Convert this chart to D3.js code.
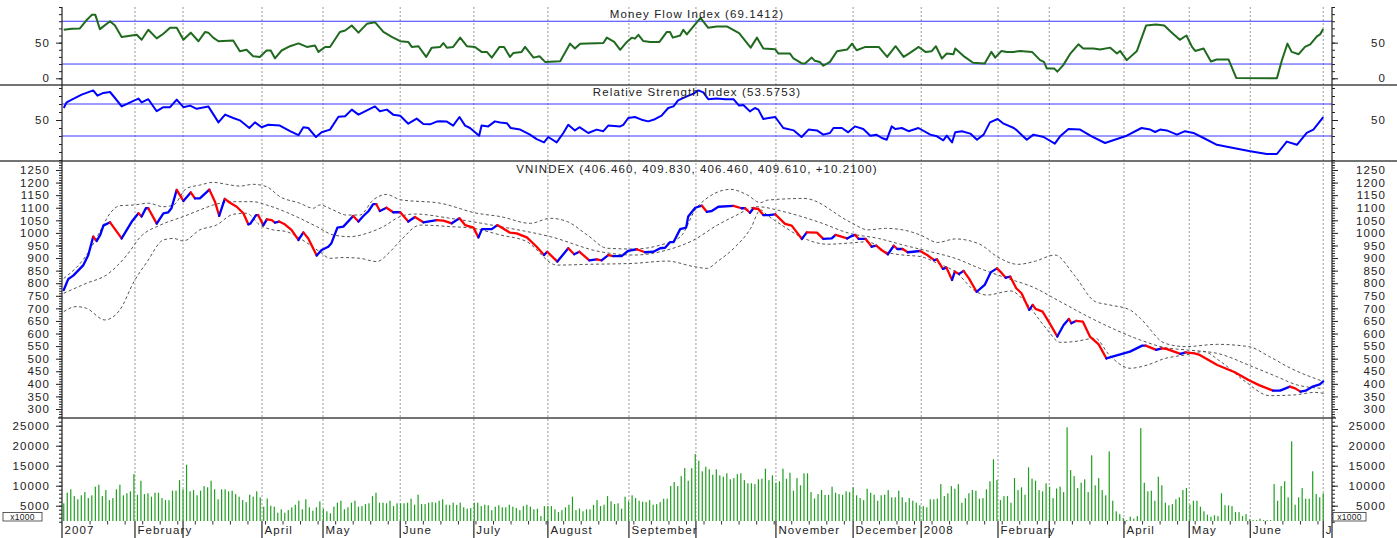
<!DOCTYPE html>
<html><head><meta charset="utf-8">
<script src="https://cdn.jsdelivr.net/npm/d3@7"></script>
<style>
body{margin:0;background:#fff}
svg{display:block}
text{font-family:"Liberation Sans",Arial,sans-serif;font-size:11.5px;letter-spacing:1.1px;fill:#222}
</style></head><body>
<svg id="c" width="1397" height="538"></svg>
<script>
// ---- x axis: month boundaries (trading-day index) and labels ----
const monthTicks  = [-0.5,20.3,34.0,56.5,73.9,95.9,116.9,138.0,161.1,180.2,203.0,225.0,244.4,266.3,280.9,302.2,320.8,338.2,359.0];
const monthLabels = ["2007","February","","April","May","June","July","August","September","","November","December","2008","February","","April","May","June","J"];

// ---- VNINDEX close, read at turning points [dayIndex, value] ----
const closePts = [[0,773],[1.3,817],[2.7,830],[5.6,872],[7,912],[8.4,985],[9.4,968],[10.4,992],[11.3,1029],[13.2,1042],[16.5,978],[19.4,1045],[21.3,1078],[22.2,1065],[23.4,1098],[24.1,1098],[26.5,1037],[28.4,1078],[29.8,1082],[30.7,1098],[32.2,1171],[34.1,1127],[36.2,1161],[37.4,1137],[38.8,1137],[41.5,1172],[43.1,1124],[44.3,1068],[45.9,1135],[47.4,1120],[49.3,1104],[51.2,1078],[52.6,1034],[53.2,1037],[54.8,1071],[55.4,1071],[56.9,1031],[57.9,1054],[59.3,1051],[60.2,1041],[61.4,1045],[63,1034],[64.9,1012],[66.9,972],[68.3,1002],[69.7,978],[72.1,910],[73.5,932],[75.4,945],[76.3,959],[78,1021],[79.7,1025],[82.5,1067],[84,1045],[85.4,1067],[86.9,1087],[88.2,1114],[89.1,1114],[90.1,1087],[92,1100],[93.9,1082],[95.9,1082],
[98.2,1045],[100.1,1063],[102.5,1042],[106.3,1051],[108.2,1049],[110.6,1038],[112.8,1058],[114.4,1031],[116.8,1021],[118.2,982],[119.2,1015],[122,1015],[123.6,1031],[127.2,1001],[129.1,998],[132,982],[134.8,945],[136.9,912],[137.8,925],[140.7,886],[143.8,939],[145.5,915],[147,925],[149.8,891],[151.9,895],[153.3,891],[155.2,912],[156.6,908],[159,908],[160.9,929],[163.3,935],[165.7,923],[168.1,925],[170,939],[171.4,941],[172.8,963],[173.8,963],[175.7,1015],[177.4,1021],[178,1065],[180,1100],[181.9,1108],[183.3,1084],[184.7,1087],[186.6,1104],[190.9,1107],[193.2,1098],[194.2,1098],[195.6,1080],[196.6,1098],[198,1095],[199.4,1071],[200.9,1071],[202.8,1074],[205.6,1036],[207.5,1029],[210.4,976],[211.8,1002],[214.7,1001],[216.5,976],[218.9,978],[220,992],[223.3,978],[224.2,985],
[225.6,992],[226.6,976],[228.6,976],[230.3,945],[231.6,949],[233.1,932],[234.9,915],[236.6,949],[237.6,936],[239.1,936],[240.6,923],[242.1,925],[244.1,928],[246.1,912],[248.1,892],[248.9,895],[250.6,857],[251.6,862],[253.2,813],[254,846],[255.2,837],[256.5,849],[258,819],[260.2,766],[262.5,793],[264.2,843],[266,859],[267.2,843],[268.5,822],[269.8,826],[271.5,780],[273,760],[275.2,694],[276.2,714],[277,698],[279,687],[281,641],[283.2,588],[285,634],[286.5,658],[287.2,641],[288.5,650],[290.5,647],[292.5,588],[295,557],[297.2,501],[299.9,512],[303.9,528],[307.4,552],[308.4,552],[311.4,535],[312.9,541],[314.3,539],[318.3,519],[319.8,525],[322.3,521],[323.8,515],[328.8,475],[333.8,446],[337.7,415],[340.7,395],[344.7,373],[346.7,373],[349.5,389],[351,382],[352.5,369],[354,373],[356,389],[358,398],[359,409.61]];

// ---- Bollinger bands [dayIndex, value] ----
const bbUpper = [[0,819],[6.5,912],[10.3,1005],[13.2,1078],[16,1108],[20,1111],[24.1,1118],[28.4,1104],[31.3,1111],[35,1177],[38.8,1190],[42.6,1201],[46.4,1193],[50.2,1186],[54,1193],[57.8,1184],[61.6,1144],[67.3,1118],[71.1,1098],[73,1111],[76.8,1091],[80.6,1071],[84.4,1071],[88.2,1131],[92,1153],[95.9,1132],[107.3,1118],[117.8,1078],[124.4,1065],[133,1038],[138.7,1058],[143.5,1045],[149.2,992],[154.9,939],[162.5,936],[170.1,952],[175.8,985],[180.6,1104],[190.1,1173],[194.8,1151],[198.6,1120],[200.5,1130],[211,1137],[224.3,1042],[229.2,1012],[234.2,1018],[239.2,1012],[244.1,992],[249.1,962],[254.1,976],[261.1,955],[266,906],[272,875],[277,888],[282.5,912],[288,833],[294,727],[298,714],[303.9,694],[306.9,660],[313.9,561],[319.8,548],[328.8,557],[337.7,548],[343.7,508],[349.7,462],[358.7,411]];
const bbMiddle = [[0,760],[6.5,800],[12.2,833],[18,912],[21.9,985],[27.5,1031],[34.1,1065],[38.8,1091],[42.6,1111],[48.3,1124],[54,1124],[57.8,1111],[62.6,1087],[67.3,1058],[72.1,1025],[76.8,992],[81.6,985],[86.3,998],[91.1,1025],[95.9,1065],[100,1075],[110.2,1058],[124.4,1025],[138.7,985],[153,925],[162.5,912],[172,932],[179.6,972],[186.3,1031],[191,1065],[197.7,1104],[205.3,1084],[214.8,1045],[224.3,997],[232.2,978],[239.2,952],[247.1,925],[254.1,899],[261.1,859],[269,819],[276,786],[284,727],[292,667],[299.9,614],[306.9,574],[313.9,544],[319.8,535],[328.8,521],[338.7,469],[345.7,429],[351.7,395],[358.7,382]];
const bbLower = [[0,687],[3.5,707],[6.5,700],[11.7,654],[16,694],[20,806],[23.8,886],[28.4,972],[31.3,978],[34.1,968],[38.8,1012],[43.5,1031],[48.3,1074],[52.1,1078],[55.9,1031],[59.7,1012],[63.5,1005],[67.3,978],[73,925],[75.9,899],[79.7,902],[84.4,899],[89.2,886],[93,925],[95.9,968],[101.6,1031],[110.2,1025],[116.8,1018],[124.4,992],[132,965],[140.6,872],[149.2,875],[162.5,879],[172,888],[179.6,866],[183.4,859],[186.3,886],[191,939],[195.8,1018],[198.6,1091],[200.5,1071],[205.3,1025],[210,985],[217.7,955],[224.3,960],[229.2,965],[234.2,925],[239.2,912],[244.1,906],[249.1,879],[254.1,846],[260.1,766],[263.1,753],[270,769],[274,727],[280,621],[284,565],[288,568],[294,581],[298,515],[303.9,462],[308.9,475],[313.9,501],[319.8,515],[324.8,528],[329.8,488],[336.8,409],[343.7,353],[350.7,356],[356.7,366],[359.2,362]];

// ---- Money Flow Index [dayIndex, value] ----
const mfiPts = [[0,68],[2.3,69.4],[4.6,70],[6.4,81],[8,89],[9,89],[10.3,69],[13.2,80],[14.6,74],[16.5,58],[20.8,61],[22.2,54],[24.1,68],[26.5,56],[28.4,62.5],[30.3,71],[32.2,71],[34.1,54],[36.2,64],[38.4,52],[40.3,65],[41.2,64],[42.6,57],[44.1,52],[48.3,53],[50.2,38],[52.1,40],[54,31],[55.9,30],[57.8,39],[59,39],[60.2,28],[62.1,39],[64.5,45],[66.9,49],[69.3,44],[71.6,46],[72.6,37],[74.5,44],[75.9,44],[78.7,65],[80.2,67],[82.1,74],[84,64],[86.4,76.4],[88.7,78.7],[91.1,65],[93.5,58],[95.9,52],[98.2,51],[99.2,44],[101.1,45],[103.3,30],[104.9,43],[107.3,44],[108.2,49.5],[109.2,43],[111,44],[113,57],[114.9,45],[117.2,44],[119.1,37],[120.6,37],[122,29],[124.2,44],[125.5,44],[127.2,30],[128.2,35.6],[130.5,37],[131.5,44],[133.9,29],[135.6,31],[137.2,23],[141.5,24],[144.3,48.6],[145.7,41.7],[147.2,48.6],[153.8,49.5],[154.8,57],[156.9,51],[158.6,40],[160.5,51],[161.9,57],[162.8,55.6],[163.8,61],[165.2,52.3],[167.1,51],[169.8,51],[171.9,65],[172.8,65],[173.6,57],[175.7,60],[176.6,68],[177.6,61.6],[181.5,84.7],[183.7,70.8],[186.1,72.7],[189,72.7],[192.5,63.4],[195.8,43],[197.6,57],[199.4,41.7],[202.8,40.7],[203.7,34.7],[207,34.7],[208,27.8],[210.4,20.8],[211.3,20.8],[213.2,29],[214.1,24.5],[215.5,23],[216.5,17.6],[218.4,23],[220.4,38],[223.3,40.3],[224.7,48.6],[226,39.4],[228.5,44],[232.3,44],[234.7,30],[237.1,45],[239.4,30],[241.2,35.6],[243.7,44],[245.6,37],[247.4,38],[248.6,45],[250.3,27.8],[251.7,34.7],[253.6,33.8],[254.1,41.7],[256.8,30],[259.2,21.8],[262.5,20.8],[264.4,37],[265.5,29],[267.3,38.4],[268.8,37],[270.7,37],[272.6,38.4],[276,37],[278.3,25.5],[279.4,23],[280.2,13.9],[282.3,13.9],[283.2,9.3],[284.9,18.5],[286.8,33.8],[289.2,47.7],[290.6,41.7],[293.5,41.7],[295.4,40.3],[298.3,43],[300.2,34.7],[301.1,38.4],[303,25.5],[305.9,38.4],[308.5,74],[311.3,75.5],[313.7,74],[315.4,66],[318.1,54],[320,60],[321.6,44],[322.5,38.4],[324.9,41.7],[327,23.6],[328.6,26.4],[332,26.4],[334.2,0.5],[345.8,0],[347.2,25],[348.8,48.6],[350,37],[352,33.8],[353.8,44],[355.3,47.7],[357.2,58.8],[358.1,61.6],[359,69.14]];

// ---- Relative Strength Index [dayIndex, value] ----
const rsiPts = [[0,65],[0.8,72],[2.3,75.4],[5.1,81.7],[8.4,87],[9.6,80.4],[11.3,83.8],[13.2,85],[14.6,77.5],[16.5,67],[19.4,73],[21.3,76.7],[22.2,72],[24.1,76],[26.5,61],[28.4,66],[30.3,66],[32.2,75.4],[34.1,66],[36,68],[37.9,64],[41.2,67],[44.1,47],[46,56.7],[48.3,52.5],[50.2,49.6],[52.9,40],[54.5,47],[56.4,41],[58.3,44],[61.6,43],[64.5,36],[66.9,31],[68.3,41],[69.7,40],[71.9,28.7],[73.5,34.6],[75.9,38],[78.3,54],[80.2,54.6],[82.1,63],[84,56.7],[88.7,67],[90.1,61],[92.1,63],[93.9,56.7],[95.9,55.4],[98.2,45.4],[100.6,51.7],[102.5,45],[104.4,44.6],[106.3,48],[107.3,48.3],[109.2,48],[111,43],[112.8,53.75],[114.4,43],[115.8,40],[118.4,30.4],[119.1,43],[121,42],[122.9,48.3],[124.4,47],[126.3,46],[127.4,40],[130.1,38],[132.9,31.7],[134.8,26],[136.9,22],[138.1,28.75],[140.5,22],[142.4,33.75],[143.8,44],[145.7,37],[147,41],[149.5,33.75],[151.9,38],[153.8,36],[155.2,43],[158.6,42],[159.5,44],[160.9,52.5],[162.8,53.75],[164.7,50.4],[166.6,48.3],[168.5,51],[170.4,55.4],[172.3,65],[173.8,67],[175.1,74.6],[177.6,79.6],[179.5,83],[180.9,87],[182.3,84.6],[183.7,76],[186.1,77],[188.5,76],[190.9,76],[192.5,68],[193.7,68.75],[195.6,60.8],[197,65],[198,63],[199.4,51.25],[200.9,52.5],[202.8,53.75],[205.1,40],[208.1,37],[210.3,28.75],[212.3,38],[214.7,37],[216.5,31.7],[218.4,33.75],[219.4,40],[221.8,40],[223.6,34.6],[225.5,42],[227.9,38.75],[229.9,30.4],[231.6,31.7],[233.2,27.5],[234.6,25.4],[236,42],[237,38.75],[238.9,40],[240.8,36],[243.6,40],[247,31.7],[248.9,29.6],[250.7,24.6],[251.7,30.4],[253.2,22],[254.1,34.6],[256,36],[258.4,33],[260.3,25.4],[262.2,31.7],[264,47],[266.2,51.25],[267.9,45.4],[270.8,40],[271.7,37],[274.5,25.4],[276.4,31.7],[279.3,28.75],[282.5,20.4],[284,29.6],[286.4,38.75],[289.7,38],[293,29.6],[296.8,21.25],[300.2,26.25],[303,30.4],[307.2,40],[309.7,38],[311.1,35],[312.5,38],[314.4,37],[317.3,31.7],[319.6,36],[322,33.8],[324.9,27.5],[328.7,19],[333.4,15],[338.2,11],[342.9,7.5],[345.8,7.5],[348.6,23],[351.5,19],[354.3,34],[356.2,38],[359,53.58]];

// ---- Volume, one bar per trading day, in thousands of axis units (axis unit = x1000) ----
const volumeK = [5.6,8.25,9.1,7.4,6.6,7.6,8.4,6.9,7.6,9.75,10.25,7.4,8.9,6.4,6.9,9.1,10.25,7.6,8.1,8.6,12.9,7.7,11.25,7.9,8.1,7.25,8.25,8.25,6.9,6.4,6.4,8.75,8.75,11.4,9.1,15.25,8.6,8.9,7.6,8.75,9.9,9.6,11.25,9.1,6.6,9.1,9.1,8.6,8.75,7.9,7.25,6.4,5.9,7.75,7.25,8.6,7.1,4.75,6.8,5.0,4.75,3.25,4.1,3.25,3.9,4.6,5.25,6.25,4.1,6.6,4.6,3.75,4.6,6.1,4.25,3.6,3.1,4.75,5.75,6.25,4.1,4.6,5.75,6.25,4.75,4.9,5.4,5.6,7.4,8.25,5.75,5.75,5.6,6.25,4.9,5.6,5.6,5.6,5.75,6.75,5.25,7.75,5.4,5.4,5.75,5.9,5.75,6.25,6.6,5.25,
5.2,5.75,5.2,5.75,4.6,4.25,4.4,5.75,5.75,4.9,5.25,5.1,3.9,4.75,5.1,4.6,4.6,5.25,4.75,4.4,3.9,4.9,5.25,4.75,4.1,4.25,2.4,4.9,4.9,4.9,4.1,3.4,3.9,4.6,5.25,7.25,3.9,4.3,3.6,4.1,4.1,5.2,6.4,4.9,5.25,7.4,6.1,5.4,5.6,4.25,7.25,6.1,7.6,6.9,6.25,6.0,5.9,6.4,5.25,5.4,5.9,6.75,6.75,9.9,10.9,9.9,12.4,14.4,11.25,14.4,17.9,16.25,13.6,14.75,14.1,12.75,14.1,12.6,12.25,13.1,11.6,11.9,12.9,13.1,11.4,10.6,10.6,10.4,11.6,11.75,14.25,11.4,12.6,10.75,11.1,14.25,11.75,13.25,8.75,11.9,10.1,13.1,13.1,8.4,6.8,7.9,8.9,7.7,7.7,9.75,8.25,7.9,7.7,8.6,8.4,9.6,7.6,6.9,6.4,9.25,8.25,7.75,6.25,7.6,7.75,8.9,7.1,7.1,8.75,7.1,5.9,6.9,6.25,5.75,5.1,4.9,4.6,
6.6,6.6,6.75,10.4,7.4,8.1,9.9,9.25,10.4,5.75,6.9,8.1,8.9,8.75,6.75,6.9,9.1,11.1,16.6,11.4,6.4,7.4,7.4,5.75,11.9,8.9,9.6,7.75,14.6,11.75,11.25,8.9,8.6,10.6,9.75,6.9,9.3,9.75,8.4,24.6,13.9,12.4,9.4,10.75,11.6,8.4,17.6,10.1,11.9,8.9,7.6,18.6,6.25,3.6,2.9,1.9,1.4,2.25,1.75,2.4,24.4,10.75,8.6,8.75,6.25,12.25,10.1,5.75,5.1,5.4,6.6,7.1,8.9,9.4,5.25,6.25,6.25,4.75,3.6,2.75,2.25,2.6,2.4,8.1,5.1,5.1,4.9,3.4,3.4,2.4,2.9,1.6,1.4,1.4,1.75,1.4,1.4,1.4,10.4,6.25,9.9,11.1,7.1,21.1,5.25,7.1,9.4,6.75,6.75,13.6,7.9,7.1,8.1];

const mfiRefs = [20, 80];
const rsiRefs = [30, 70];
const titles = ["Money Flow Index (69.1412)", "Relative Strength Index (53.5753)", "VNINDEX (406.460, 409.830, 406.460, 409.610, +10.2100)"];

// ---------------- drawing ----------------
const svg = d3.select("#c");
const L = 62, R = 1332;
const X = d3.scaleLinear().domain([-0.5, 361.5]).range([L, R]);
const yMfi = d3.scaleLinear().domain([0, 100]).range([78.3, 7]);
const yRsi = d3.scaleLinear().domain([0, 100]).range([160, 80]);
const yPx  = d3.scaleLinear().domain([300, 1250]).range([409, 170]);
const yVol = d3.scaleLinear().domain([0, 25]).range([525.7, 425.7]);
const VOL_BASE = 521;

// vertical dotted month gridlines
svg.append("g").selectAll("line").data(monthTicks.filter(t => t > 0)).join("line")
  .attr("x1", d => X(d)).attr("x2", d => X(d)).attr("y1", 7).attr("y2", VOL_BASE)
  .attr("stroke", "#9a9a9a").attr("stroke-width", 1).attr("stroke-dasharray", "2,2");

// reference lines
svg.append("g").selectAll("line").data(mfiRefs).join("line")
  .attr("x1", L).attr("x2", R).attr("y1", d => yMfi(d)).attr("y2", d => yMfi(d))
  .attr("stroke", "#3a3aff").attr("stroke-width", 1);
svg.append("g").selectAll("line").data(rsiRefs).join("line")
  .attr("x1", L).attr("x2", R).attr("y1", d => yRsi(d)).attr("y2", d => yRsi(d))
  .attr("stroke", "#3a3aff").attr("stroke-width", 1);

// panel separators
[[85, 0, 1397], [161, 0, 1397], [418, 58, 1336]].forEach(([y, a, b]) => {
  svg.append("line").attr("x1", a).attr("x2", b).attr("y1", y).attr("y2", y)
    .attr("stroke", "#444").attr("stroke-width", 1.3);
});

// volume bars
svg.append("g").selectAll("rect").data(volumeK).join("rect")
  .attr("x", (d, i) => X(i) - 0.6).attr("width", 1.2)
  .attr("y", d => Math.min(yVol(d), VOL_BASE)).attr("height", d => Math.max(0, VOL_BASE - yVol(d)))
  .attr("fill", "#1f9f1f");

// Bollinger bands
const bandLine = d3.line().x(d => X(d[0])).y(d => yPx(d[1])).curve(d3.curveMonotoneX);
[bbUpper, bbMiddle, bbLower].forEach(b => {
  svg.append("path").attr("d", bandLine(b)).attr("fill", "none")
    .attr("stroke", "#555").attr("stroke-width", 1).attr("stroke-dasharray", "3,2.5");
});

// price line, blue when rising, red when falling
const pxLine = d3.line().x(d => X(d[0])).y(d => yPx(d[1]));
let runs = [], cur = null;
for (let k = 1; k < closePts.length; k++) {
  const col = closePts[k][1] >= closePts[k - 1][1] ? "#0000ff" : "#ff0000";
  if (!cur || cur.col !== col) { cur = { col, pts: [closePts[k - 1]] }; runs.push(cur); }
  cur.pts.push(closePts[k]);
}
svg.append("g").selectAll("path").data(runs).join("path")
  .attr("d", d => pxLine(d.pts)).attr("fill", "none").attr("stroke", d => d.col)
  .attr("stroke-width", 2.3).attr("stroke-linejoin", "round").attr("stroke-linecap", "round");

// MFI and RSI
svg.append("path").attr("d", d3.line().x(d => X(d[0])).y(d => yMfi(d[1]))(mfiPts))
  .attr("fill", "none").attr("stroke", "#1f6a1f").attr("stroke-width", 2).attr("stroke-linejoin", "round");
svg.append("path").attr("d", d3.line().x(d => X(d[0])).y(d => yRsi(d[1]))(rsiPts))
  .attr("fill", "none").attr("stroke", "#0000ff").attr("stroke-width", 2).attr("stroke-linejoin", "round");

// titles
[[titles[0], 17.5], [titles[1], 95.5], [titles[2], 172.5]].forEach(([t, y]) => {
  svg.append("text").attr("x", (L + R) / 2).attr("y", y).attr("text-anchor", "middle").text(t);
});

// y axes (left + right)
function yAxes(scale, major, minor, fmt) {
  [[L, d3.axisLeft], [R, d3.axisRight]].forEach(([x, ax], k) => {
    const g1 = svg.append("g").attr("transform", `translate(${x},0)`)
      .call(ax(scale).tickValues(minor).tickSize(3).tickFormat(""));
    const g2 = svg.append("g").attr("transform", `translate(${x},0)`)
      .call(ax(scale).tickValues(major).tickSize(6).tickPadding(6).tickFormat(fmt));
    [g1, g2].forEach(g => { g.select(".domain").remove(); g.selectAll("line").attr("stroke", "#222"); });
    if (k === 1) g2.selectAll("text").attr("text-anchor", "end").attr("x", 54);
  });
}
yAxes(yMfi, [0, 50], d3.range(0, 101, 10), d3.format("d"));
yAxes(yRsi, [50], d3.range(0, 91, 10), d3.format("d"));
yAxes(yPx, d3.range(300, 1251, 50), d3.range(270, 1281, 10), d3.format("d"));
yAxes(yVol, [5, 10, 15, 20, 25], d3.range(1, 27, 1), d => String(d * 1000));

// axis lines
[L, R].forEach(x => svg.append("line").attr("x1", x).attr("x2", x).attr("y1", 7).attr("y2", 538)
  .attr("stroke", "#222").attr("stroke-width", 1.2));

// x axis: weekly minor ticks, month ticks and labels
const xg = svg.append("g");
xg.selectAll("line.wk").data(d3.range(7.5, 359, 5)).join("line").attr("class", "wk")
  .attr("x1", d => X(d)).attr("x2", d => X(d)).attr("y1", VOL_BASE).attr("y2", VOL_BASE + 3.5)
  .attr("stroke", "#333").attr("stroke-width", 1);
xg.selectAll("line.mo").data(monthTicks.filter(t => t > 0)).join("line").attr("class", "mo")
  .attr("x1", d => X(d)).attr("x2", d => X(d)).attr("y1", VOL_BASE).attr("y2", 538)
  .attr("stroke", "#222").attr("stroke-width", 1.2);
xg.selectAll("text").data(monthTicks.map((t, i) => ({ t, s: monthLabels[i] })).filter(d => d.s)).join("text")
  .attr("x", d => X(d.t) + 2.5).attr("y", 533.5).text(d => d.s);

// [x1000] boxes
[[3, 42], [1333, 1366]].forEach(([a, b]) => {
  svg.append("rect").attr("x", a).attr("y", 512.5).attr("width", b - a).attr("height", 8.5)
    .attr("fill", "#fff").attr("stroke", "#333").attr("stroke-width", 0.8);
  svg.append("text").attr("x", (a + b) / 2).attr("y", 519.8).attr("text-anchor", "middle")
    .style("font-size", "8.5px").style("letter-spacing", "0.3px").text("x1000");
});
</script>
</body></html>
